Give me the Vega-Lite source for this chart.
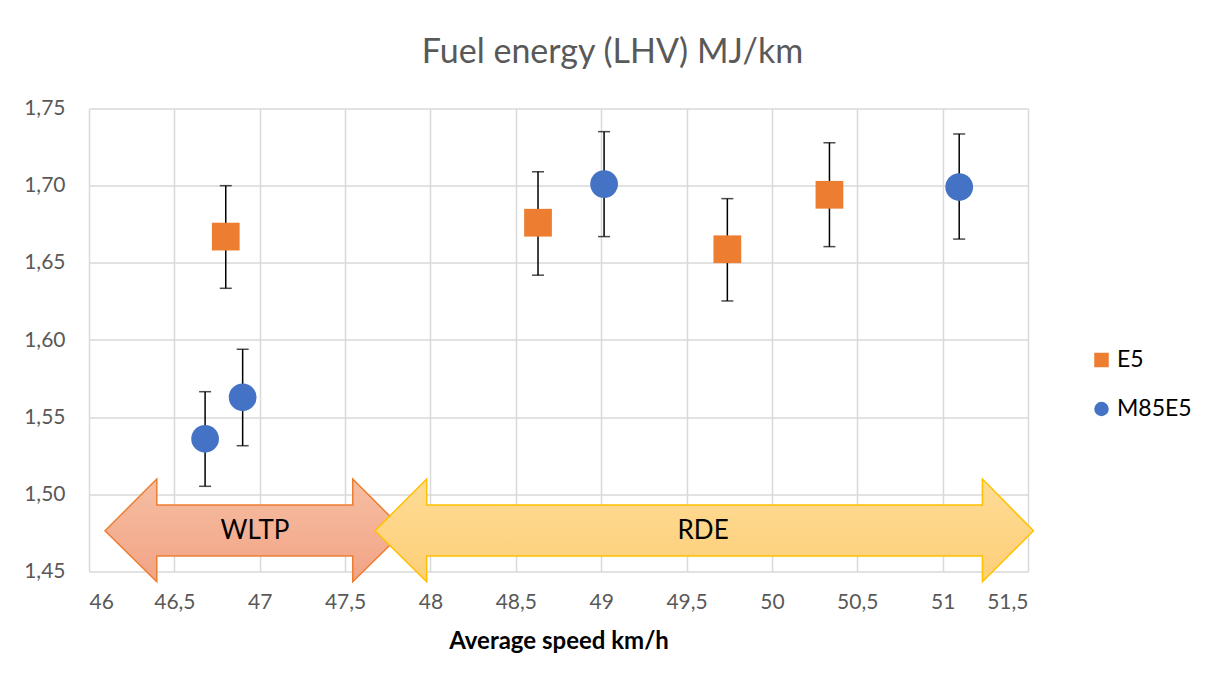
{
  "$schema": "https://vega.github.io/schema/vega-lite/v6.json",
  "width": 939,
  "height": 463,
  "autosize": {"type": "none"},
  "padding": {"left": 89, "top": 108.5, "right": 185, "bottom": 112.5},
  "background": "white",
  "title": {
    "text": "Fuel energy (LHV) MJ/km",
    "fontSize": 34,
    "font": "Lato",
    "fontWeight": "normal",
    "color": "#595959",
    "anchor": "middle",
    "frame": "group",
    "dx": 54,
    "baseline": "alphabetic",
    "offset": 1
  },
  "config": {
    "view": {"stroke": null},
    "font": "Lato",
    "axis": {"gridColor": "#d9d9d9", "gridWidth": 1.5, "domain": false, "ticks": false, "labelColor": "#595959", "labelFontSize": 21, "labelFont": "Lato"}
  },
  "datasets": {
    "pts": [
      {"fuel": "E5", "speed": 46.801, "energy": 1.667, "lo": 1.6335, "hi": 1.700},
      {"fuel": "E5", "speed": 48.630, "energy": 1.676, "lo": 1.642, "hi": 1.709},
      {"fuel": "E5", "speed": 49.739, "energy": 1.6588, "lo": 1.6253, "hi": 1.6916},
      {"fuel": "E5", "speed": 50.337, "energy": 1.6941, "lo": 1.6605, "hi": 1.7278},
      {"fuel": "M85E5", "speed": 46.680, "energy": 1.536, "lo": 1.5052, "hi": 1.5665},
      {"fuel": "M85E5", "speed": 46.900, "energy": 1.5629, "lo": 1.5315, "hi": 1.594},
      {"fuel": "M85E5", "speed": 49.017, "energy": 1.701, "lo": 1.667, "hi": 1.735},
      {"fuel": "M85E5", "speed": 51.097, "energy": 1.6991, "lo": 1.6654, "hi": 1.7335}
    ],
    "wltp": [
      {"i": 1, "sx": 46.094, "sy": 1.4764},
      {"i": 2, "sx": 46.397, "sy": 1.5099},
      {"i": 3, "sx": 46.397, "sy": 1.4931},
      {"i": 4, "sx": 47.545, "sy": 1.4931},
      {"i": 5, "sx": 47.545, "sy": 1.5099},
      {"i": 6, "sx": 47.848, "sy": 1.4764},
      {"i": 7, "sx": 47.545, "sy": 1.4434},
      {"i": 8, "sx": 47.545, "sy": 1.46},
      {"i": 9, "sx": 46.397, "sy": 1.46},
      {"i": 10, "sx": 46.397, "sy": 1.4434}
    ],
    "rde": [
      {"i": 1, "sx": 47.675, "sy": 1.4764},
      {"i": 2, "sx": 47.978, "sy": 1.5099},
      {"i": 3, "sx": 47.978, "sy": 1.4931},
      {"i": 4, "sx": 51.233, "sy": 1.4931},
      {"i": 5, "sx": 51.233, "sy": 1.5099},
      {"i": 6, "sx": 51.532, "sy": 1.4764},
      {"i": 7, "sx": 51.233, "sy": 1.4434},
      {"i": 8, "sx": 51.233, "sy": 1.46},
      {"i": 9, "sx": 47.978, "sy": 1.46},
      {"i": 10, "sx": 47.978, "sy": 1.4434}
    ],
    "labels": [
      {"name": "WLTP", "sx": 46.972, "sy": 1.4764},
      {"name": "RDE", "sx": 49.597, "sy": 1.4764}
    ]
  },
  "layer": [
    {
      "data": {"name": "pts"},
      "mark": {"type": "point", "opacity": 0},
      "encoding": {
        "x": {"field": "speed", "type": "quantitative",
          "scale": {"domain": [46, 51.5], "nice": false, "zero": false},
          "axis": {"values": [46, 46.5, 47, 47.5, 48, 48.5, 49, 49.5, 50, 50.5, 51, 51.5],
            "labelExpr": "replace(format(datum.value, '~g'), '.', ',')",
            "labelPadding": 20,
            "title": "Average speed km/h", "titleFontSize": 24, "titleFontWeight": "bold", "titleColor": "#000000", "titlePadding": 17, "titleFont": "Lato"}},
        "y": {"field": "energy", "type": "quantitative",
          "scale": {"domain": [1.45, 1.75], "nice": false, "zero": false},
          "axis": {"values": [1.45, 1.5, 1.55, 1.6, 1.65, 1.7, 1.75],
            "labelExpr": "replace(format(datum.value, '.2f'), '.', ',')",
            "labelPadding": 24, "title": null}}
      }
    },
    {
      "data": {"name": "wltp"},
      "mark": {"type": "line", "interpolate": "linear-closed", "clip": false, "stroke": "#ed7d31", "strokeWidth": 1.5,
        "fill": {"gradient": "linear", "x1": 0, "y1": 0, "x2": 0, "y2": 1, "stops": [{"offset": 0, "color": "#f6bea3"}, {"offset": 1, "color": "#f2a385"}]}},
      "encoding": {
        "x": {"field": "sx", "type": "quantitative"},
        "y": {"field": "sy", "type": "quantitative"},
        "order": {"field": "i", "type": "quantitative"}
      }
    },
    {
      "data": {"name": "rde"},
      "mark": {"type": "line", "interpolate": "linear-closed", "clip": false, "stroke": "#ffc000", "strokeWidth": 1.5,
        "fill": {"gradient": "linear", "x1": 0, "y1": 0, "x2": 0, "y2": 1, "stops": [{"offset": 0, "color": "#fedb95"}, {"offset": 1, "color": "#fdcf78"}]}},
      "encoding": {
        "x": {"field": "sx", "type": "quantitative"},
        "y": {"field": "sy", "type": "quantitative"},
        "order": {"field": "i", "type": "quantitative"}
      }
    },
    {
      "data": {"name": "labels"},
      "mark": {"type": "text", "fontSize": 26, "font": "Lato", "color": "#000000", "baseline": "middle", "align": "center"},
      "encoding": {
        "x": {"field": "sx", "type": "quantitative"},
        "y": {"field": "sy", "type": "quantitative"},
        "text": {"field": "name"}
      }
    },
    {
      "data": {"name": "pts"},
      "mark": {"type": "rule", "color": "#000000", "strokeWidth": 1.5},
      "encoding": {
        "x": {"field": "speed", "type": "quantitative"},
        "y": {"field": "lo", "type": "quantitative"},
        "y2": {"field": "hi"}
      }
    },
    {
      "data": {"name": "pts"},
      "mark": {"type": "tick", "orient": "horizontal", "color": "#000000", "size": 12, "thickness": 1.5},
      "encoding": {
        "x": {"field": "speed", "type": "quantitative"},
        "y": {"field": "lo", "type": "quantitative"}
      }
    },
    {
      "data": {"name": "pts"},
      "mark": {"type": "tick", "orient": "horizontal", "color": "#000000", "size": 12, "thickness": 1.5},
      "encoding": {
        "x": {"field": "speed", "type": "quantitative"},
        "y": {"field": "hi", "type": "quantitative"}
      }
    },
    {
      "data": {"name": "pts"},
      "mark": {"type": "point", "filled": true, "opacity": 1, "size": 770},
      "encoding": {
        "x": {"field": "speed", "type": "quantitative"},
        "y": {"field": "energy", "type": "quantitative"},
        "color": {"field": "fuel", "type": "nominal",
          "scale": {"domain": ["E5", "M85E5"], "range": ["#ed7d31", "#4472c4"]},
          "legend": {"title": null, "orient": "none", "legendX": 1001, "legendY": 240, "labelFontSize": 23, "labelFont": "Lato", "labelColor": "#000000", "symbolSize": 210, "rowPadding": 25, "labelOffset": 4, "symbolOpacity": 1, "symbolStrokeWidth": 0, "padding": 0}},
        "shape": {"field": "fuel", "type": "nominal",
          "scale": {"domain": ["E5", "M85E5"], "range": ["square", "circle"]},
          "legend": {"title": null, "orient": "none", "legendX": 1001, "legendY": 240, "labelFontSize": 23, "labelFont": "Lato", "labelColor": "#000000", "symbolSize": 210, "rowPadding": 25, "labelOffset": 4, "symbolOpacity": 1, "symbolStrokeWidth": 0, "padding": 0}}
      }
    }
  ]
}
